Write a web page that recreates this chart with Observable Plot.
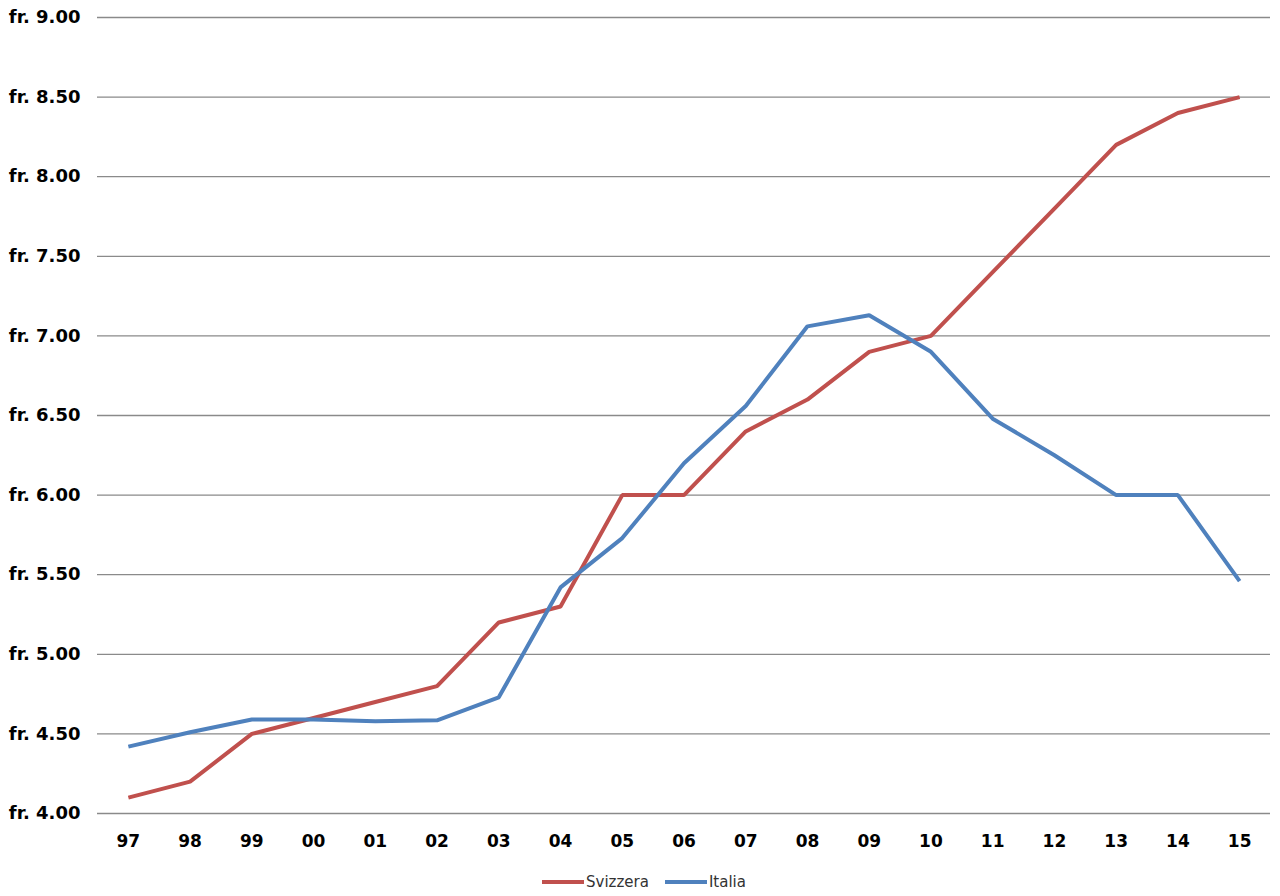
<!DOCTYPE html>
<html>
<head>
<meta charset="utf-8">
<script src="https://cdn.jsdelivr.net/npm/d3@7"></script>
<script src="https://cdn.jsdelivr.net/npm/@observablehq/plot@0.6"></script>
<style>
  html, body { margin: 0; padding: 0; background: #fff; }
  #legend { display: flex; justify-content: center; align-items: center; gap: 16px; font-family: "DejaVu Sans", Verdana, sans-serif; font-size: 15px; color: #333; height: 40px; padding-top: 12px; box-sizing: border-box; margin-left: 8px; }
  .item { display: flex; align-items: center; }
  .swatch { display: inline-block; width: 42px; height: 4px; margin-right: 2px; }
</style>
</head>
<body>
<div id="chart"></div>
<div id="legend"></div>
<script>
const years = ["97","98","99","00","01","02","03","04","05","06","07","08","09","10","11","12","13","14","15"];
const svizzera = [4.10,4.20,4.50,4.60,4.70,4.80,5.20,5.30,6.00,6.00,6.40,6.60,6.90,7.00,7.40,7.80,8.20,8.40,8.50];
const italia = [4.42,4.51,4.59,4.59,4.58,4.585,4.73,5.42,5.73,6.20,6.56,7.06,7.13,6.90,6.48,6.25,6.00,6.00,5.46];
const yTicks = [4.0,4.5,5.0,5.5,6.0,6.5,7.0,7.5,8.0,8.5,9.0];
const seriesNames = ["Svizzera","Italia"];
const seriesColors = ["#C0504D","#4F81BD"];

const rows = [];
years.forEach((y,i) => {
  rows.push({year: y, value: svizzera[i], series: seriesNames[0]});
  rows.push({year: y, value: italia[i], series: seriesNames[1]});
});

const chart = Plot.plot({
  width: 1280,
  height: 856,
  marginTop: 17,
  marginBottom: 43,
  marginLeft: 97,
  marginRight: 10,
  style: {fontFamily: "'DejaVu Sans', Verdana, sans-serif", fontSize: "17px", fontWeight: "bold", color: "#000", background: "#fff"},
  x: {type: "point", domain: years, padding: 0.5, round: false, label: null},
  y: {domain: [4, 9], label: null},
  color: {domain: seriesNames, range: seriesColors},
  marks: [
    Plot.ruleY(yTicks, {stroke: "#8a8a8a", strokeWidth: 1.3}),
    Plot.axisX({tickSize: 0, tickPadding: 21, fontSize: 17, label: null}),
    Plot.axisY({ticks: yTicks, tickSize: 0, tickPadding: 17, fontSize: 18, label: null, tickFormat: d => "fr. " + d.toFixed(2)}),
    Plot.line(rows, {x: "year", y: "value", z: "series", stroke: "series", strokeWidth: 4, strokeLinejoin: "miter", strokeLinecap: "butt"})
  ]
});
document.getElementById("chart").appendChild(chart);

const legend = document.getElementById("legend");
seriesNames.forEach((n,i) => {
  const it = document.createElement("div");
  it.className = "item";
  const sw = document.createElement("span");
  sw.className = "swatch";
  sw.style.background = seriesColors[i];
  it.appendChild(sw);
  const t = document.createElement("span");
  t.textContent = n;
  it.appendChild(t);
  legend.appendChild(it);
});
</script>
</body>
</html>
